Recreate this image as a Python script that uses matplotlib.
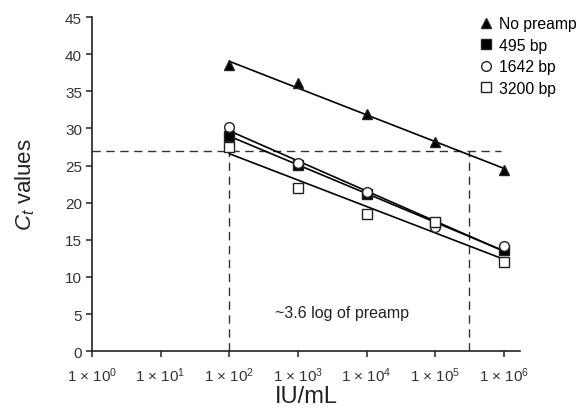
import matplotlib
matplotlib.use("Agg")
import matplotlib.pyplot as plt
import numpy as np

plt.rcParams["font.family"] = ["Liberation Sans", "DejaVu Sans"]
plt.rcParams["mathtext.fontset"] = "custom"
plt.rcParams["mathtext.rm"] = "Liberation Sans"
plt.rcParams["mathtext.it"] = "Liberation Sans:italic"

# Data
iu_per_ml = [1e2, 1e3, 1e4, 1e5, 1e6]
no_preamp = [38.5, 36.1, 31.9, 28.2, 24.4]
bp_495 = [29.0, 25.1, 21.2, 17.2, 13.6]
bp_1642 = [30.2, 25.3, 21.4, 16.7, 14.2]
bp_3200 = [27.5, 22.0, 18.5, 17.4, 12.0]

threshold_ct = 27
preamp_limit = 3.1e5
threshold_end = 9e5
x_tick_exps = [0, 1, 2, 3, 4, 5, 6]
y_ticks = [0, 5, 10, 15, 20, 25, 30, 35, 40, 45]

series = [
    ("No preamp", no_preamp, "^", "black"),
    ("495 bp", bp_495, "s", "black"),
    ("1642 bp", bp_1642, "o", "white"),
    ("3200 bp", bp_3200, "s", "white"),
]

fig = plt.figure(figsize=(5.81, 4.10), dpi=100)
ax = fig.add_axes([0.158, 0.141, 0.737, 0.815])

logx = np.log10(iu_per_ml)
handles = []
for label, ct, marker, face in series:
    slope, intercept = np.polyfit(logx, ct, 1)
    ax.plot(iu_per_ml, slope * logx + intercept, color="black", lw=1.2, zorder=2)
    h, = ax.plot(iu_per_ml, ct, linestyle="none", marker=marker, ms=7,
                 mfc=face, mec="#222222", mew=1.0, zorder=3, label=label)
    handles.append(h)

# Dashed guides
dash = dict(color="#333333", lw=1.0, linestyle=(0, (6, 4)), zorder=1)
ax.plot([1, threshold_end], [threshold_ct, threshold_ct], **dash)
ax.plot([iu_per_ml[0], iu_per_ml[0]], [0, threshold_ct], **dash)
ax.plot([preamp_limit, preamp_limit], [0, threshold_ct], **dash)

ax.text(10 ** 3.64, 5.2, "~3.6 log of preamp", ha="center", va="center",
        fontsize=11.5, color="#222222")

ax.set_xscale("log")
ax.set_xlim(1, 10 ** 6.23)
ax.set_ylim(0, 45)
ax.set_xticks([10.0 ** e for e in x_tick_exps])
ax.set_xticklabels([r"1 × 10$^{%d}$" % e for e in x_tick_exps])
ax.xaxis.set_minor_locator(matplotlib.ticker.NullLocator())
ax.set_yticks(y_ticks)

for side in ["top", "right"]:
    ax.spines[side].set_visible(False)
for side in ["left", "bottom"]:
    ax.spines[side].set_linewidth(1.2)
    ax.spines[side].set_color("#222222")
ax.tick_params(axis="both", direction="out", length=4, width=1.1,
               labelsize=11, colors="#222222", labelcolor="#333333")
ax.tick_params(axis="x", pad=6)
ax.tick_params(axis="y", pad=3)

ax.set_xlabel("IU/mL", fontsize=17, color="#222222", labelpad=1)
ax.set_ylabel(r"$C_t$ values", fontsize=16, color="#222222", labelpad=20)

fig.legend(handles=handles, loc="upper right", bbox_to_anchor=(1.0, 0.97),
           frameon=False, fontsize=11.3, handlelength=0.8, handletextpad=0.4,
           borderaxespad=0.2, labelspacing=0.42, borderpad=0.1)

fig.savefig("out.png", dpi=100)
